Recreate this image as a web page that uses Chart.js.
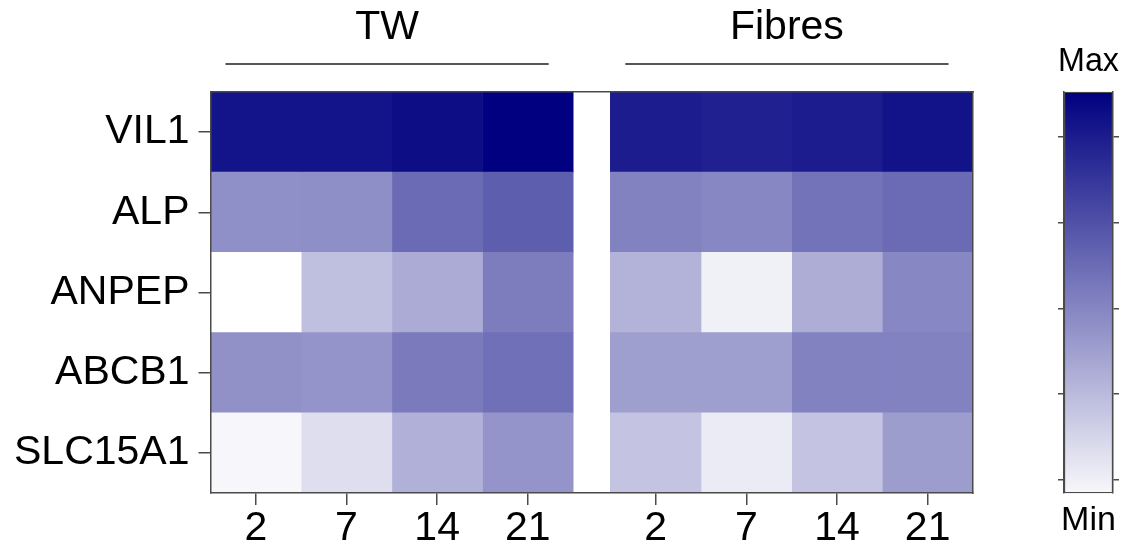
<!DOCTYPE html>
<html>
<head>
<meta charset="utf-8">
<script src="https://cdn.jsdelivr.net/npm/chart.js@4"></script>
<style>
	body { margin: 0; background: #fff; }
	#mainBox { position: absolute; left: 0; top: 0; width: 1000px; height: 552px; }
	#barBox { position: absolute; left: 1030px; top: 0; width: 103px; height: 552px; }
</style>
</head>
<body>
<div id="mainBox"><canvas id="heatChart"></canvas></div>
<div id="barBox"><canvas id="scaleChart"></canvas></div>
<script>
// rows of the heatmap, top to bottom
const genes = ["VIL1", "ALP", "ANPEP", "ABCB1", "SLC15A1"];
const groups = ["TW", "Fibres"];
const days = ["2", "7", "14", "21"];

// relative expression (0 = Min, 1 = Max), columns: TW 2,7,14,21 then Fibres 2,7,14,21
const vil1 = [0.92, 0.92, 0.95, 1.00, 0.89, 0.875, 0.89, 0.93];
const alp = [0.435, 0.44, 0.58, 0.63, 0.49, 0.47, 0.55, 0.58];
const anpep = [0.00, 0.25, 0.33, 0.51, 0.30, 0.06, 0.32, 0.47];
const abcb1 = [0.43, 0.42, 0.52, 0.56, 0.38, 0.38, 0.49, 0.49];
const slc15a1 = [0.03, 0.13, 0.31, 0.42, 0.23, 0.08, 0.23, 0.39];
const rows = [vil1, alp, anpep, abcb1, slc15a1];

// colour bar ticks
const scaleTicks = [0, 0.25, 0.5, 0.75, 1];

const gap = 0.41; // blank column between the two groups
const nCols = groups.length * days.length;

function colStart(j) {
	return j + (j >= days.length ? gap : 0);
}

function shade(v) {
	const r = Math.round(255 * (1 - v));
	const b = Math.round(255 - 127 * v);
	return "rgb(" + r + "," + r + "," + b + ")";
}

const axisColor = "#4a4a4a";
const font41 = { family: "Liberation Sans, Arial, sans-serif", size: 41, lineHeight: 1.0 };
const edge = { color: axisColor, width: 1.5, z: 1 };

let datasets = [];
for (let j = 0; j < nCols; j++) {
	datasets.push({
		data: genes.map(() => [colStart(j), colStart(j) + 1]),
		backgroundColor: rows.map(r => shade(r[j])),
		borderWidth: 0,
		grouped: false,
		categoryPercentage: 1,
		barPercentage: 1
	});
}

let tickCentres = [];
for (let j = 0; j < nCols; j++) tickCentres.push(colStart(j) + 0.5);

// group headings with a line under each one
const groupHeads = {
	id: "groupHeads",
	afterDraw(chart) {
		const ctx = chart.ctx;
		const x = chart.scales.x;
		const top = chart.chartArea.top;
		ctx.save();
		groups.forEach((g, gi) => {
			const a = colStart(gi * days.length);
			const b = colStart(gi * days.length + days.length - 1) + 1;
			const left = x.getPixelForValue(a + 0.165);
			const right = x.getPixelForValue(b - 0.27);
			ctx.fillStyle = "#000";
			ctx.font = "41px Liberation Sans, Arial, sans-serif";
			ctx.textAlign = "center";
			ctx.textBaseline = "middle";
			ctx.fillText(g, (left + right) / 2, top - 64);
			ctx.strokeStyle = "#555";
			ctx.lineWidth = 2;
			ctx.beginPath();
			ctx.moveTo(left, top - 28);
			ctx.lineTo(right, top - 28);
			ctx.stroke();
		});
		ctx.restore();
	}
};

new Chart("heatChart", {
	type: "bar",
	data: { labels: genes, datasets: datasets },
	plugins: [groupHeads],
	options: {
		indexAxis: "y",
		responsive: true,
		maintainAspectRatio: false,
		animation: false,
		layout: { padding: { left: 5, top: 92, right: 27, bottom: 0 } },
		plugins: { legend: { display: false }, tooltip: { enabled: false } },
		scales: {
			x: {
				type: "linear",
				position: "bottom",
				min: 0,
				max: colStart(nCols - 1) + 1,
				afterBuildTicks: axis => { axis.ticks = tickCentres.map(v => ({ value: v })); },
				ticks: {
					color: "#000",
					font: font41,
					padding: 3,
					maxRotation: 0,
					autoSkip: false,
					callback: (v, i) => days[i % days.length]
				},
				grid: { drawOnChartArea: false, tickLength: 12, color: axisColor, lineWidth: 1.5 },
				border: edge
			},
			xTop: {
				type: "linear",
				position: "top",
				ticks: { display: false },
				grid: { display: false, drawTicks: false },
				border: edge
			},
			y: {
				type: "category",
				position: "left",
				ticks: { color: "#000", font: font41, padding: 9 },
				grid: { drawOnChartArea: false, tickLength: 12, color: axisColor, lineWidth: 1.5, offset: false },
				border: edge
			},
			yRight: {
				type: "linear",
				position: "right",
				ticks: { display: false },
				grid: { display: false, drawTicks: false },
				border: edge
			}
		}
	}
});

// colour bar
const scaleMin = -0.038;
const scaleMax = 1.13;

function barGradient(context) {
	const chart = context.chart;
	const area = chart.chartArea;
	if (!area) return "#8080bf";
	const g = chart.ctx.createLinearGradient(0, area.bottom, 0, area.top);
	for (let k = 0; k <= 10; k++) {
		g.addColorStop(k / 10, shade(0.03 + 0.97 * k / 10));
	}
	return g;
}

const sideAxis = pos => ({
	type: "linear",
	position: pos,
	min: scaleMin,
	max: scaleMax,
	afterBuildTicks: axis => { axis.ticks = scaleTicks.map(v => ({ value: v })); },
	ticks: { display: false },
	grid: { drawOnChartArea: false, tickLength: 6, color: axisColor, lineWidth: 1.5 },
	border: edge
});

new Chart("scaleChart", {
	type: "bar",
	data: {
		labels: [""],
		datasets: [{
			data: [[scaleMin, scaleMax]],
			backgroundColor: barGradient,
			borderColor: axisColor,
			borderWidth: 1.5,
			borderSkipped: false,
			categoryPercentage: 1,
			barPercentage: 1,
			yAxisID: "y"
		}]
	},
	options: {
		responsive: true,
		maintainAspectRatio: false,
		animation: false,
		layout: { padding: { left: 28, right: 14, top: 0, bottom: 0 } },
		plugins: {
			legend: { display: false },
			tooltip: { enabled: false },
			title: {
				display: true,
				text: "Max",
				color: "#000",
				font: { family: "Liberation Sans, Arial, sans-serif", size: 34, weight: "normal", lineHeight: 1.2 },
				padding: { top: 41, bottom: 10 }
			},
			subtitle: {
				display: true,
				position: "bottom",
				text: "Min",
				color: "#000",
				font: { family: "Liberation Sans, Arial, sans-serif", size: 34, weight: "normal", lineHeight: 1.2 },
				padding: { top: 7, bottom: 11 }
			}
		},
		scales: {
			x: { display: false },
			y: sideAxis("left"),
			y2: sideAxis("right")
		}
	}
});
</script>
</body>
</html>
